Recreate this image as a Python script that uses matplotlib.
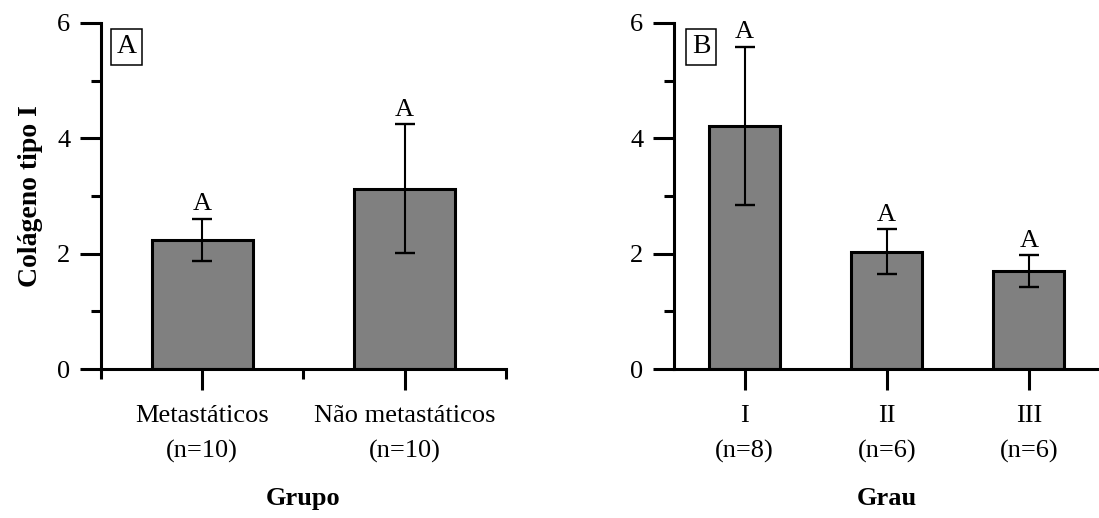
import numpy as np
import matplotlib
matplotlib.use('Agg')
import matplotlib.pyplot as plt
from matplotlib.ticker import FixedLocator

plt.rcParams['font.family'] = ['Liberation Serif', 'DejaVu Serif']

# painel A - grupo
grupoLabels = ['Metastáticos\n(n=10)', 'Não metastáticos\n(n=10)']
grupoMean = [2.24, 3.13]
grupoErr = [0.37, 1.12]
grupoLetras = ['A', 'A']

# painel B - grau
grauLabels = ['I\n(n=8)', 'II\n(n=6)', 'III\n(n=6)']
grauMean = [4.22, 2.03, 1.70]
grauErr = [1.37, 0.39, 0.27]
grauLetras = ['A', 'A', 'A']

fig = plt.figure(figsize=(10.99, 5.18), dpi=100)
axA = fig.add_axes([0.0919, 0.2876, 0.3685, 0.668])
axB = fig.add_axes([0.613, 0.2876, 0.3877, 0.668])


def painel(ax, labels, mean, err, letras, xlabel, tag, minorX):
    x = np.arange(1, len(mean) + 1)
    ax.bar(x, mean, width=0.5, color='#808080', edgecolor='black', linewidth=2.2, zorder=2)
    ax.errorbar(x, mean, yerr=err, fmt='none', ecolor='black', elinewidth=1.5,
                capsize=7, capthick=1.7, zorder=3)
    for xi, m, e, l in zip(x, mean, err, letras):
        ax.annotate(l, (xi, m + e), xytext=(0, 6), textcoords='offset points',
                    ha='center', va='baseline', fontsize=19)
    ax.set_xlim(0.5, len(mean) + 0.5)
    ax.set_ylim(0, 6)
    ax.spines['top'].set_visible(False)
    ax.spines['right'].set_visible(False)
    for s in ['left', 'bottom']:
        ax.spines[s].set_linewidth(2.2)
    ax.set_xticks(x)
    ax.set_xticklabels(labels, fontsize=19, linespacing=1.75)
    if minorX:
        ax.xaxis.set_minor_locator(FixedLocator(np.arange(0.5, len(mean) + 1, 1.0)))
    ax.set_yticks([0, 2, 4, 6])
    ax.yaxis.set_minor_locator(FixedLocator([1, 3, 5]))
    ax.tick_params(axis='both', which='major', direction='out', length=15, width=2.2,
                   labelsize=19, pad=7)
    ax.tick_params(axis='both', which='minor', direction='out', length=7.5, width=2.2)
    ax.tick_params(axis='x', which='major', pad=11)
    ax.set_xlabel(xlabel, fontsize=19, fontweight='bold', labelpad=17)
    ax.text(0.064, 0.931, tag, transform=ax.transAxes, ha='center', va='center',
            fontsize=20, bbox=dict(boxstyle='square,pad=0.2', fc='white', ec='black', lw=1.1))


painel(axA, grupoLabels, grupoMean, grupoErr, grupoLetras, 'Grupo', 'A', True)
painel(axB, grauLabels, grauMean, grauErr, grauLetras, 'Grau', 'B', False)
axA.set_ylabel('Colágeno tipo I', fontsize=20, fontweight='bold', labelpad=10)

fig.savefig('out.png', dpi=100)
